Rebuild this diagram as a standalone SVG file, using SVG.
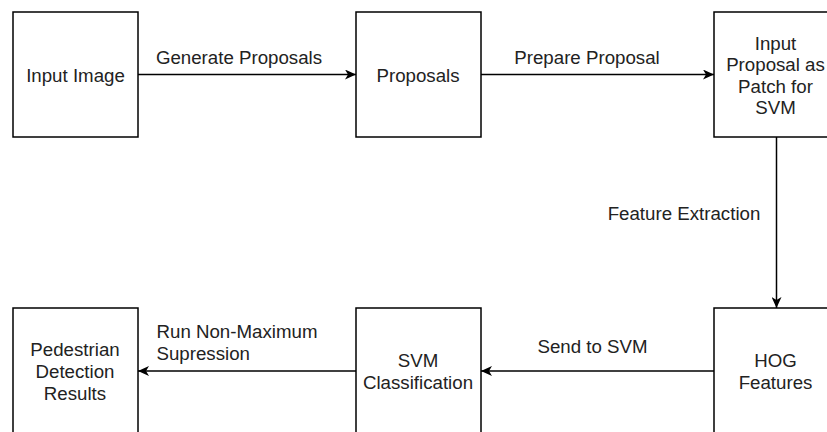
<svg xmlns="http://www.w3.org/2000/svg" width="827" height="432" viewBox="0 0 827 432">
<defs>
<marker id="arr" markerWidth="12" markerHeight="10" refX="11" refY="5" orient="auto" markerUnits="userSpaceOnUse">
<path d="M0,0 L11,5 L0,10 L3,5 Z" fill="#000"/>
</marker>
</defs>
<style>
.box{fill:#fff;stroke:#000;stroke-width:1.5}
.t{font-family:"Liberation Sans",Arial,sans-serif;font-size:18.7px;fill:#222}
.c{text-anchor:middle}
.e{fill:none;stroke:#000;stroke-width:1.5}
</style>
<rect width="827" height="432" fill="#fff"/>
<g id="input-image"><rect class="box" x="13" y="12" width="125" height="125"/><text class="t c" x="75.5" y="82">Input Image</text></g>
<g id="proposals"><rect class="box" x="356" y="12" width="125" height="125"/><text class="t c" x="418" y="82">Proposals</text></g>
<g id="input-proposal"><rect class="box" x="714" y="12" width="125" height="125"/><text class="t c" x="775.5"><tspan x="775.5" y="49.5">Input</tspan><tspan x="775.5" y="71">Proposal as</tspan><tspan x="775.5" y="92.5">Patch for</tspan><tspan x="775.5" y="114">SVM</tspan></text></g>
<g id="hog"><rect class="box" x="714" y="308" width="125" height="125"/><text class="t c"><tspan x="775.5" y="367">HOG</tspan><tspan x="775.5" y="389">Features</tspan></text></g>
<g id="svm"><rect class="box" x="356" y="308" width="125" height="125"/><text class="t c"><tspan x="418" y="367">SVM</tspan><tspan x="418" y="389">Classification</tspan></text></g>
<g id="results"><rect class="box" x="13" y="308" width="125" height="125"/><text class="t c"><tspan x="75" y="356">Pedestrian</tspan><tspan x="75" y="378">Detection</tspan><tspan x="75" y="400">Results</tspan></text></g>
<g id="connectors">
<line class="e" x1="138" y1="74.5" x2="356" y2="74.5" marker-end="url(#arr)"/>
<text class="t c" x="239" y="64">Generate Proposals</text>
<line class="e" x1="481" y1="74.5" x2="714" y2="74.5" marker-end="url(#arr)"/>
<text class="t c" x="587" y="64">Prepare Proposal</text>
<line class="e" x1="776.5" y1="137" x2="776.5" y2="308" marker-end="url(#arr)"/>
<text class="t c" x="684" y="220">Feature Extraction</text>
<line class="e" x1="714" y1="371" x2="481" y2="371" marker-end="url(#arr)"/>
<text class="t c" x="592.5" y="353">Send to SVM</text>
<line class="e" x1="356" y1="371" x2="138" y2="371" marker-end="url(#arr)"/>
<text class="t"><tspan x="156.5" y="338">Run Non-Maximum</tspan><tspan x="156.5" y="360">Supression</tspan></text>
</g>
</svg>
